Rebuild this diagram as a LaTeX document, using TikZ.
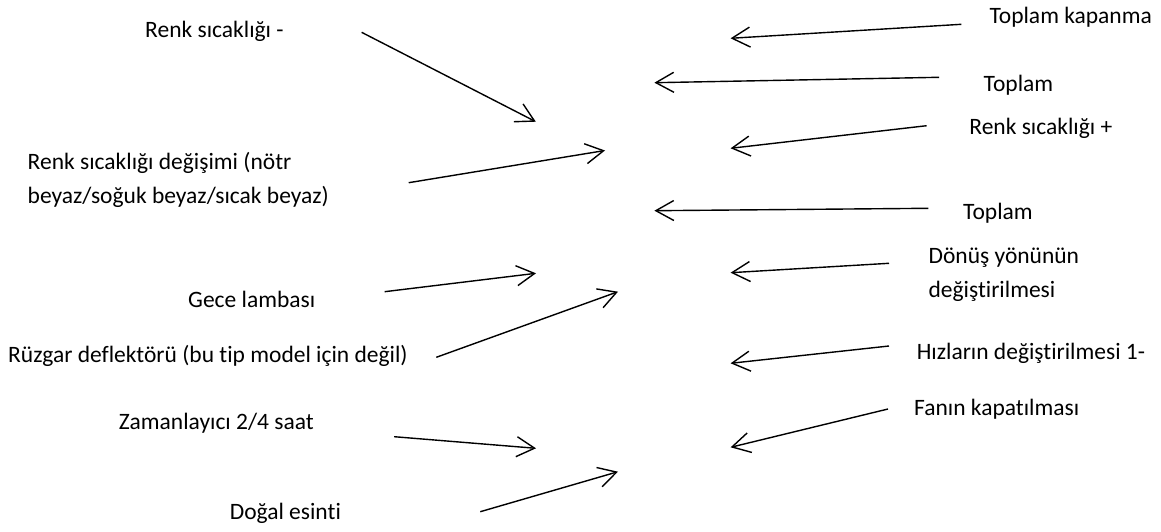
\documentclass[tikz,border=0pt]{standalone}
\usepackage{fontspec}
\setmainfont{Carlito}[Ligatures={NoCommon}]
\usetikzlibrary{arrows.meta}

\begin{document}
\begin{tikzpicture}[x=1pt,y=-1pt,
        lbl/.style={inner sep=0pt,anchor=west,align=left,font=\fontsize{23.5}{34}\selectfont},
        arr/.style={line width=1.4pt,-{Straight Barb[length=18pt,width=20pt]}}]
        \useasboundingbox (0,0) rectangle (1161,532);
        \node[lbl] (RM) at (145,31) {Renk sıcaklığı -};
        \node[lbl] (RD) at (27.5,180) {Renk sıcaklığı değişimi (nötr\\beyaz/soğuk beyaz/sıcak beyaz)};
        \node[lbl] (GL) at (188,299) {Gece lambası};
        \node[lbl] (RZ) at (8,356) {Rüzgar deflektörü (bu tip model için değil)};
        \node[lbl] (ZM) at (118.6,423) {Zamanlayıcı 2/4 saat};
        \node[lbl] (DE) at (229.6,513) {Doğal esinti};
        \node[lbl] (TK) at (989.3,17) {Toplam kapanma};
        \node[lbl] (T1) at (983.5,85) {Toplam};
        \node[lbl] (RP) at (969.2,128) {Renk sıcaklığı +};
        \node[lbl] (T2) at (963,213) {Toplam};
        \node[lbl] (DY) at (928.4,275) {Dönüş yönünün\\değiştirilmesi};
        \node[lbl] (HD) at (916.6,353) {Hızların değiştirilmesi 1-};
        \node[lbl] (FK) at (914,409) {Fanın kapatılması};
        \coordinate (RM1) at (361.6,32.3);  \coordinate (RM2) at (535.8,121.7);
        \coordinate (RD1) at (408.7,182.7); \coordinate (RD2) at (605,150.5);
        \coordinate (GL1) at (384.6,291.7); \coordinate (GL2) at (536,273.3);
        \coordinate (RZ1) at (436.3,357.3); \coordinate (RZ2) at (618,291.7);
        \coordinate (ZM1) at (394.2,436.7); \coordinate (ZM2) at (536,448.3);
        \coordinate (DE1) at (480.3,511.7); \coordinate (DE2) at (618,471.7);
        \coordinate (TK1) at (961.4,24.3);  \coordinate (TK2) at (730.6,38.3);
        \coordinate (T11) at (939.2,77.3);  \coordinate (T12) at (654.4,82.7);
        \coordinate (RP1) at (926.7,125.7); \coordinate (RP2) at (730.6,148.3);
        \coordinate (T21) at (928.4,208.3); \coordinate (T22) at (654.4,210.7);
        \coordinate (DY1) at (889,263.3);   \coordinate (DY2) at (730.6,272.7);
        \coordinate (HD1) at (889,346);     \coordinate (HD2) at (730.6,363.3);
        \coordinate (FK1) at (888,409);     \coordinate (FK2) at (730.6,447.3);
        \draw[arr] (RM1) -- (RM2);
        \draw[arr] (RD1) -- (RD2);
        \draw[arr] (GL1) -- (GL2);
        \draw[arr] (RZ1) -- (RZ2);
        \draw[arr] (ZM1) -- (ZM2);
        \draw[arr] (DE1) -- (DE2);
        \draw[arr] (TK1) -- (TK2);
        \draw[arr] (T11) -- (T12);
        \draw[arr] (RP1) -- (RP2);
        \draw[arr] (T21) -- (T22);
        \draw[arr] (DY1) -- (DY2);
        \draw[arr] (HD1) -- (HD2);
        \draw[arr] (FK1) -- (FK2);
    \end{tikzpicture}
\end{document}
